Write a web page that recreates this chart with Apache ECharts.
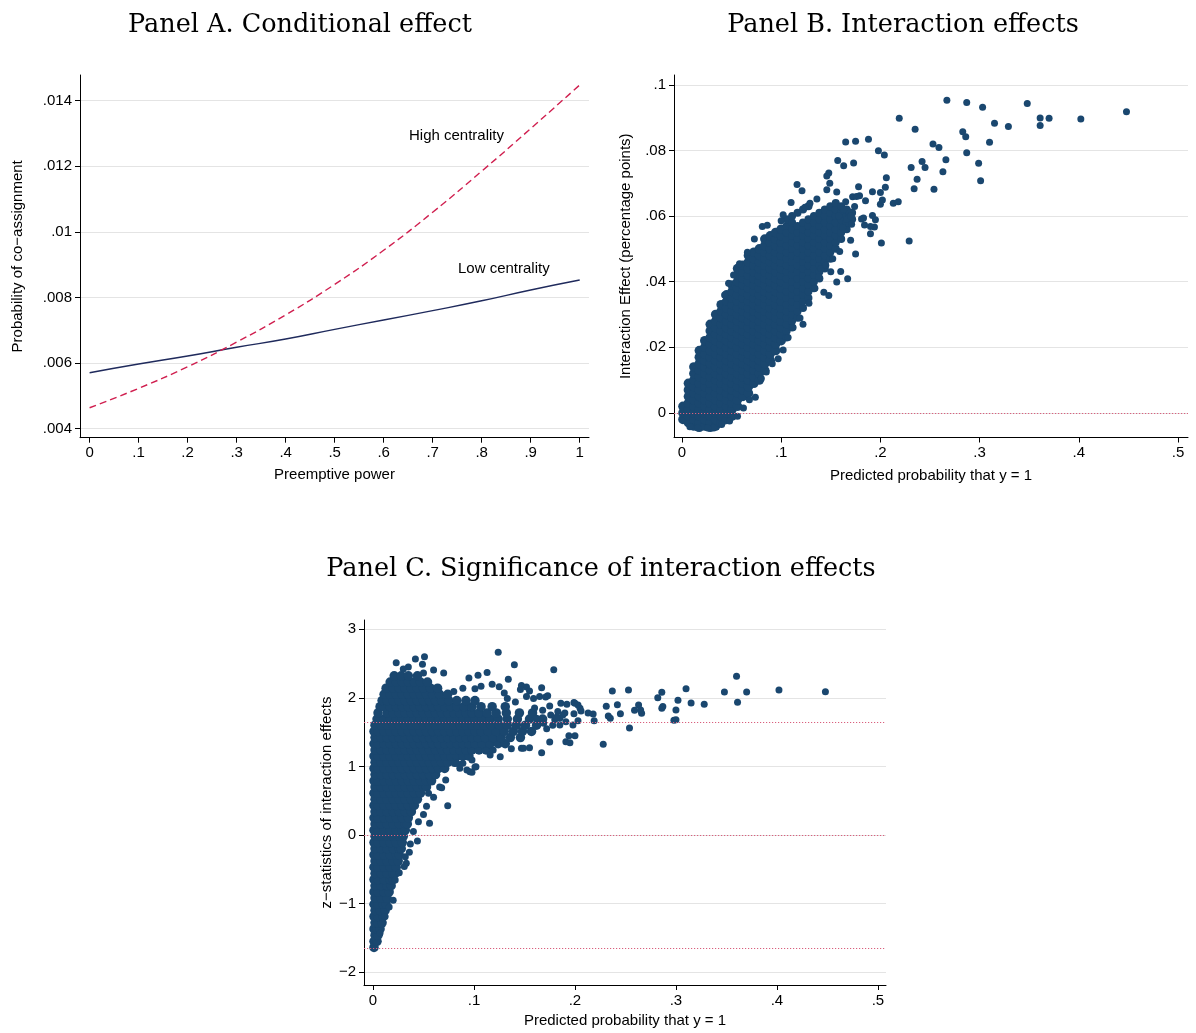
<!DOCTYPE html>
<html><head><meta charset="utf-8">
<script src="https://cdn.jsdelivr.net/npm/echarts@6/dist/echarts.min.js"></script>
<style>html,body{margin:0;padding:0;background:#fff}#c{width:1196px;height:1033px}</style>
</head><body><div id="c"></div><script>
// ---------- Panel A data ----------
const aX = [0, .1, .2, .3, .4, .5, .6, .7, .8, .9, 1];
const aLow = [.005707, .005972, .006216, .006482, .006735, .00703, .007314, .0076, .0079, .00823, .008533];
const aHigh = [.00464, .00523, .00589, .00664, .00747, .0084, .00944, .0106, .01185, .01315, .01448];
const aXTicks = [0, .1, .2, .3, .4, .5, .6, .7, .8, .9, 1];
const aYTicks = [.004, .006, .008, .01, .012, .014];

// ---------- Panel B data (x = predicted probability, y = interaction effect) ----------
const bXTicks = [0, .1, .2, .3, .4, .5];
const bYTicks = [0, .02, .04, .06, .08, .1];
const bRefLines = [0];
// dense core, by column: [x, [y values]]
const bCore = [
 [.001,[-.002,0,.002]],
 [.0065,[-.003,-.001,.001,.003,.005,.007,.009]],
 [.012,[-.004,-.002,0,.002,.004,.006,.008,.010,.012,.014]],
 [.0175,[-.0044,-.003,-.001,.001,.003,.005,.007,.009,.011,.013,.015,.017,.019]],
 [.023,[-.004,-.002,0,.002,.004,.006,.008,.010,.012,.014,.016,.018,.020,.022]],
 [.0285,[-.0044,-.003,-.001,.001,.003,.005,.007,.009,.011,.013,.015,.017,.019,.021,.023,.025,.027]],
 [.034,[-.004,-.002,0,.002,.004,.006,.008,.010,.012,.014,.016,.018,.020,.022,.024,.026,.028,.030]],
 [.0395,[-.003,-.001,.001,.003,.005,.007,.009,.011,.013,.015,.017,.019,.021,.023,.025,.027,.029,.031,.033]],
 [.045,[-.002,0,.002,.004,.006,.008,.010,.012,.014,.016,.018,.020,.022,.024,.026,.028,.030,.032,.034,.036]],
 [.0505,[-.001,.001,.003,.005,.007,.009,.011,.013,.015,.017,.019,.021,.023,.025,.027,.029,.031,.033,.035,.037,.039]],
 [.056,[.002,.004,.006,.008,.010,.012,.014,.016,.018,.020,.022,.024,.026,.028,.030,.032,.034,.036,.038,.040,.042,.044]],
 [.0615,[.005,.007,.009,.011,.013,.015,.017,.019,.021,.023,.025,.027,.029,.031,.033,.035,.037,.039,.041,.043,.045]],
 [.067,[.006,.008,.010,.012,.014,.016,.018,.020,.022,.024,.026,.028,.030,.032,.034,.036,.038,.040,.042,.044,.046,.048]],
 [.0725,[.009,.011,.013,.015,.017,.019,.021,.023,.025,.027,.029,.031,.033,.035,.037,.039,.041,.043,.045,.047,.049]],
 [.078,[.010,.012,.014,.016,.018,.020,.022,.024,.026,.028,.030,.032,.034,.036,.038,.040,.042,.044,.046,.048,.050]],
 [.0835,[.013,.015,.017,.019,.021,.023,.025,.027,.029,.031,.033,.035,.037,.039,.041,.043,.045,.047,.049,.051,.053]],
 [.089,[.016,.018,.020,.022,.024,.026,.028,.030,.032,.034,.036,.038,.040,.042,.044,.046,.048,.050,.052,.054]],
 [.0945,[.019,.021,.023,.025,.027,.029,.031,.033,.035,.037,.039,.041,.043,.045,.047,.049,.051,.053,.055]],
 [.100,[.022,.024,.026,.028,.030,.032,.034,.036,.038,.040,.042,.044,.046,.048,.050,.052,.054,.056]]
];
// band beyond x = .1 (slightly looser, with gaps)
const bBand = [
 [.1055,[.023,.025,.027,.029,.031,.033,.035,.037,.039,.041,.043,.045,.047,.049,.051,.053,.055,.057,.059]],
 [.111,[.026,.028,.030,.032,.034,.036,.038,.040,.042,.044,.046,.048,.050,.052,.054,.056,.058,.060]],
 [.1165,[.029,.031,.033,.035,.037,.039,.041,.043,.045,.047,.049,.051,.053,.055,.057,.061]],
 [.122,[.032,.034,.036,.038,.040,.042,.044,.046,.048,.050,.052,.054,.056,.058,.062]],
 [.1275,[.035,.037,.039,.041,.043,.045,.047,.049,.051,.053,.055,.057,.059,.063]],
 [.133,[.038,.040,.042,.044,.046,.048,.050,.052,.054,.056,.058,.060]],
 [.1385,[.041,.043,.045,.047,.049,.051,.053,.055,.057,.059,.061]],
 [.144,[.044,.046,.048,.050,.052,.054,.056,.058,.060,.062]],
 [.1495,[.047,.049,.051,.053,.055,.057,.059,.061,.063]],
 [.155,[.050,.052,.054,.056,.058,.060,.062,.064]],
 [.1605,[.053,.055,.057,.059,.061,.063]],
 [.166,[.056,.058,.060,.062]],
 [.1715,[.059,.061]]
];
const bOutliers = [
 [.267,.0953],[.287,.0946],[.303,.0932],[.348,.0943],[.361,.0899],[.370,.0898],[.361,.0876],[.402,.0896],[.448,.0918],
 [.219,.0898],[.235,.0865],[.315,.0883],[.329,.0873],[.283,.0857],[.286,.0842],[.310,.0825],
 [.165,.0826],[.175,.0828],[.188,.0834],[.198,.0799],[.204,.0786],[.253,.0820],[.259,.0809],[.287,.0793],
 [.266,.0772],[.242,.0766],[.299,.0761],[.163,.0753],[.173,.0762],[.157,.0769],[.231,.0748],[.245,.0748],[.263,.0735],
 [.301,.0708],[.237,.0712],[.206,.0717],[.234,.0683],[.254,.0682],[.205,.0688],[.200,.0672],[.192,.0674],[.178,.0689],
 [.148,.0731],[.146,.0722],[.149,.0700],[.146,.0680],[.156,.0673],[.179,.0662],[.172,.0659],[.176,.0660],[.116,.0696],[.121,.0677],
 [.200,.0636],[.202,.0649],[.213,.0639],[.218,.0644],[.185,.0647],[.165,.0644],[.174,.0629],[.168,.0614],
 [.229,.0524],[.201,.0518],[.190,.0546],[.170,.0526],[.175,.0484],[.159,.0492],
 [.192,.0602],[.195,.0589],[.194,.0567],[.190,.0568],[.181,.0591],[.184,.0573],[.183,.0594],
 [.167,.0409],[.156,.0399],[.143,.0368],[.148,.0358],[.160,.0431],[.140,.0440],
 [.100,.0586],[.102,.0604],[.073,.0530],[.081,.0568],[.086,.0572],[.110,.0641],[.136,.0652],[.129,.0639],[.124,.0627],
 [.043,.0359],[.047,.0395],[.052,.0420],[.058,.0455],[.066,.0490],
 [.074,.0048],[.097,.0165],[.102,.0192],[.107,.0230],[.119,.0289],[.122,.0270],[.128,.0334],[.112,.0260],[.091,.0150],
 [.085,.0125],[.080,.0105],[.068,.0040],[.062,.0015],[.056,-.0010],[.048,-.0025],[.040,-.0035],[.032,-.0046],[.026,-.0046],[.016,-.0046],[.008,-.0042],
 [.162,.0565],[.166,.0590],[.170,.0600],[.158,.0600],[.171,.0575],[.163,.0620],
 [.134,.0380],[.138,.0415],[.145,.0450],[.152,.0470],[.150,.0430]
];

// ---------- Panel C data (x = predicted probability, z = z-statistic) ----------
const cXTicks = [0, .1, .2, .3, .4, .5];
const cYTicks = [-2, -1, 0, 1, 2, 3];
const cRefLines = [1.645, 0, -1.645];
// dense core, by row: [z, [x values]]
const cCore = [
 [-1.64,[.001]],
 [-1.55,[.001,.004]],
 [-1.46,[.002,.005]],
 [-1.37,[.001,.004,.007]],
 [-1.28,[.002,.005,.009]],
 [-1.19,[.001,.005,.010]],
 [-1.10,[.002,.007,.012]],
 [-1.01,[.001,.005,.010,.013]],
 [-0.92,[.002,.008,.014]],
 [-0.83,[.001,.005,.011,.016]],
 [-0.74,[.002,.008,.014,.018]],
 [-0.65,[.001,.005,.011,.017,.020]],
 [-0.56,[.002,.008,.014,.020,.022]],
 [-0.47,[.001,.005,.011,.017,.023]],
 [-0.38,[.002,.008,.014,.020,.025]],
 [-0.29,[.001,.005,.011,.017,.023,.026]],
 [-0.20,[.002,.008,.014,.020,.026,.028]],
 [-0.11,[.001,.005,.011,.017,.023,.029]],
 [-0.02,[.002,.008,.014,.020,.026,.030]],
 [0.07,[.001,.005,.011,.017,.023,.029,.032]],
 [0.16,[.002,.008,.014,.020,.026,.032,.034]],
 [0.25,[.001,.005,.011,.017,.023,.029,.035]],
 [0.34,[.002,.008,.014,.020,.026,.032,.038]],
 [0.43,[.001,.005,.011,.017,.023,.029,.035,.041]],
 [0.52,[.002,.008,.014,.020,.026,.032,.038,.044]],
 [0.61,[.001,.005,.011,.017,.023,.029,.035,.041,.047]],
 [0.70,[.002,.008,.014,.020,.026,.032,.038,.044,.050,.053]],
 [0.79,[.001,.005,.011,.017,.023,.029,.035,.041,.047,.053,.058]],
 [0.88,[.002,.008,.014,.020,.026,.032,.038,.044,.050,.056,.062]],
 [0.97,[.001,.005,.011,.017,.023,.029,.035,.041,.047,.053,.059,.065,.071]],
 [1.06,[.002,.008,.014,.020,.026,.032,.038,.044,.050,.056,.062,.068,.074,.081]],
 [1.15,[.001,.005,.011,.017,.023,.029,.035,.041,.047,.053,.059,.065,.071,.077,.083,.089,.095]],
 [1.24,[.002,.008,.014,.020,.026,.032,.038,.044,.050,.056,.062,.068,.074,.080,.086,.092,.098,.105,.112]],
 [1.33,[.001,.005,.011,.017,.023,.029,.035,.041,.047,.053,.059,.065,.071,.077,.083,.089,.095,.101,.108,.116,.124,.131]],
 [1.42,[.002,.008,.014,.020,.026,.032,.038,.044,.050,.056,.062,.068,.074,.080,.086,.092,.098,.104,.111,.119,.127,.136,.146]],
 [1.51,[.001,.005,.011,.017,.023,.029,.035,.041,.047,.053,.059,.065,.071,.077,.083,.089,.095,.101,.107,.114,.122,.130,.139,.148,.157]],
 [1.60,[.002,.008,.014,.020,.026,.032,.038,.044,.050,.056,.062,.068,.074,.080,.086,.092,.098,.104,.110,.117,.125,.133,.142,.151,.162]],
 [1.69,[.004,.011,.017,.023,.029,.035,.041,.047,.053,.059,.065,.071,.077,.083,.089,.095,.101,.108,.116,.124,.133,.143,.155,.168]],
 [1.78,[.005,.014,.020,.026,.032,.038,.044,.050,.056,.062,.068,.074,.080,.086,.092,.098,.105,.113,.122,.132,.145,.158]],
 [1.87,[.007,.011,.017,.023,.029,.035,.041,.047,.053,.059,.065,.071,.077,.083,.090,.098,.107,.118,.131]],
 [1.96,[.009,.014,.020,.026,.032,.038,.044,.050,.056,.062,.068,.075,.083,.092,.101]],
 [2.05,[.011,.017,.023,.029,.035,.041,.047,.053,.059,.066,.074]],
 [2.14,[.013,.020,.026,.032,.038,.044,.050,.057,.064]],
 [2.23,[.017,.023,.029,.035,.041,.047,.054]],
 [2.32,[.021,.028,.035,.044]]
];
const cOutliers = [
 [.448,2.089],[.402,2.114],[.370,2.085],[.360,2.313],[.361,1.934],[.348,2.085],[.328,1.905],[.315,1.924],[.310,2.133],
 [.302,1.963],[.300,1.822],[.298,1.672],[.300,1.680],[.286,1.847],[.287,1.872],[.286,2.080],[.282,2.002],[.266,1.774],
 [.265,1.822],[.263,1.895],[.259,1.818],[.253,2.114],[.254,1.560],[.237,2.099],[.242,1.900],[.245,1.768],[.231,1.876],
 [.233,1.735],[.235,1.701],[.228,1.322],[.219,1.666],[.218,1.764],[.213,1.778],[.203,1.666],[.198,1.603],[.199,1.768],
 [.200,1.920],[.203,1.895],[.205,1.847],[.206,1.808],[.192,1.905],[.186,1.920],[.194,1.447],[.200,1.447],[.191,1.360],
 [.195,1.346],[.185,1.700],[.191,1.650],[.185,1.603],
 [.124,2.663],[.140,2.483],[.179,2.410],[.051,2.600],[.049,2.490],[.060,2.405],[.070,2.360],[.050,2.360],[.095,2.290],
 [.104,2.330],[.113,2.370],[.134,2.270],[.118,2.197],[.125,2.160],[.107,2.170],[.101,2.130],[.080,2.090],[.089,2.140],
 [.147,2.180],[.152,2.157],[.167,2.147],[.155,2.100],[.146,2.120],[.130,2.070],[.133,1.990],[.141,1.940],[.152,2.020],
 [.159,1.990],[.165,2.020],[.171,2.010],[.173,2.030],[.199,1.930],[.023,2.510],[.042,2.566],[.035,2.450],[.030,2.420],
 [.175,1.356],[.167,1.200],[.147,1.264],[.155,1.273],[.137,1.258],[.098,1.093],[.101,0.990],[.093,0.947],[.098,0.914],
 [.089,1.045],[.083,1.045],[.086,0.972],[.116,1.166],[.126,1.140],[.119,1.240],[.149,1.264],
 [.074,0.427],[.056,0.170],[.044,-0.087],[.037,-0.130],[.032,-0.316],[.033,-0.413],[.022,-0.656],[.020,-0.950],
 [.012,-1.190],[.007,-1.430],[.045,0.194],[.053,0.420],[.055,0.608],[.066,0.700],[.072,0.800],[.096,0.920],[.102,0.995],
 [.031,-0.460],[.068,0.690],[.060,0.550],[.050,0.300],[.040,0.050],[.036,-0.250],[.026,-0.550],[.016,-1.050],
 [.176,1.750],[.180,1.680],[.183,1.800],[.178,1.600],[.172,1.550],[.188,1.750],[.168,1.820],[.175,1.880],[.160,1.850],
 [.162,1.700],[.169,1.630],[.182,1.720],[.190,1.780]
];

// ---------- helpers ----------
const SANS = '"Liberation Sans", Arial, sans-serif';
const NAVY = '#1a476f';
const fmt = v => {
  if (Math.abs(v) < 1e-12) return '0';
  let s = String(+v.toFixed(6));
  s = s.replace(/^(-?)0\./, '$1.');
  return s.replace('-', '\u2212');
};
const cols = arr => arr.flatMap(([x, ys]) => ys.map(y => [x, y]));
const rows = arr => arr.flatMap(([y, xs]) => xs.map(x => [x, y]));

function axis(gridIndex, min, max, ticks, name, nameGap, isY) {
  return {
    type: 'value', gridIndex, min, max, name, nameLocation: 'middle', nameGap,
    nameTextStyle: { fontFamily: SANS, fontSize: 15, color: '#000' },
    axisLine: { show: true, onZero: false, lineStyle: { color: '#000', width: 1 } },
    axisTick: { show: true, inside: false, length: 5, customValues: ticks, lineStyle: { color: '#000', width: 1 } },
    axisLabel: { show: true, customValues: ticks, formatter: fmt, fontFamily: SANS, fontSize: 15, color: '#000', margin: 8 },
    splitLine: { show: isY, lineStyle: { color: '#e4e4e4', width: 1 } }
  };
}
function refSeries(xi, yi, vals) {
  return {
    type: 'scatter', xAxisIndex: xi, yAxisIndex: yi, data: [], z: 1, silent: true,
    markLine: {
      silent: true, symbol: ['none', 'none'], label: { show: false },
      lineStyle: { color: '#d9607e', width: 1, type: [1.2, 1.8] },
      data: vals.map(v => ({ yAxis: v }))
    }
  };
}
function dots(xi, yi, data, size) {
  return {
    type: 'scatter', xAxisIndex: xi, yAxisIndex: yi, data, symbol: 'circle', symbolSize: size, z: 3,
    silent: true, itemStyle: { color: NAVY, opacity: 1 }, progressive: 0, large: false
  };
}

const chart = echarts.init(document.getElementById('c'), null, { renderer: 'canvas' });
chart.setOption({
  animation: false,
  backgroundColor: '#fff',
  grid: [
    { left: 80, top: 75, width: 509, height: 362.7 },
    { left: 674, top: 75, width: 514, height: 362.5 },
    { left: 364, top: 620, width: 522, height: 365 }
  ],
  xAxis: [
    axis(0, -0.0196, 1.019, aXTicks, 'Preemptive power', 30, false),
    axis(1, -0.008, 0.510, bXTicks, 'Predicted probability that y = 1', 31, false),
    axis(2, -0.0089, 0.508, cXTicks, 'Predicted probability that y = 1', 28, false)
  ],
  yAxis: [
    axis(0, 0.003726, 0.014784, aYTicks, 'Probability of co\u2212assignment', 55, true),
    axis(1, -0.0075, 0.103, bYTicks, 'Interaction Effect (percentage points)', 41, true),
    axis(2, -2.187, 3.134, cYTicks, 'z\u2212statistics of interaction effects', 30, true)
  ],
  series: [
    { type: 'line', xAxisIndex: 0, yAxisIndex: 0, data: aX.map((x, i) => [x, aLow[i]]), smooth: true,
      showSymbol: false, silent: true, z: 3, lineStyle: { color: '#1f2a5c', width: 1.4 } },
    { type: 'line', xAxisIndex: 0, yAxisIndex: 0, data: aX.map((x, i) => [x, aHigh[i]]), smooth: true,
      showSymbol: false, silent: true, z: 3, lineStyle: { color: '#d01f4f', width: 1.4, type: [7, 4] } },
    refSeries(1, 1, bRefLines),
    dots(1, 1, cols(bCore), 9.5),
    dots(1, 1, cols(bBand), 8),
    dots(1, 1, bOutliers, 7),
    refSeries(2, 2, cRefLines),
    dots(2, 2, rows(cCore), 9.5),
    dots(2, 2, cOutliers, 7)
  ],
  graphic: [
    { type: 'text', x: 300, y: 25, style: { text: 'Panel A. Conditional effect', fill: '#000', font: '25.5px "DejaVu Serif"', textAlign: 'center', textVerticalAlign: 'middle', align: 'center', verticalAlign: 'middle' } },
    { type: 'text', x: 903, y: 25, style: { text: 'Panel B. Interaction effects', fill: '#000', font: '25.5px "DejaVu Serif"', textAlign: 'center', textVerticalAlign: 'middle', align: 'center', verticalAlign: 'middle' } },
    { type: 'text', x: 601, y: 569, style: { text: 'Panel C. Significance of interaction effects', fill: '#000', font: '25.5px "DejaVu Serif"', textAlign: 'center', textVerticalAlign: 'middle', align: 'center', verticalAlign: 'middle' } },
    { type: 'text', x: 409, y: 136, style: { text: 'High centrality', fill: '#000', font: '15px ' + SANS, textAlign: 'left', textVerticalAlign: 'middle', align: 'left', verticalAlign: 'middle' } },
    { type: 'text', x: 458, y: 269, style: { text: 'Low centrality', fill: '#000', font: '15px ' + SANS, textAlign: 'left', textVerticalAlign: 'middle', align: 'left', verticalAlign: 'middle' } }
  ]
});
</script></body></html>
